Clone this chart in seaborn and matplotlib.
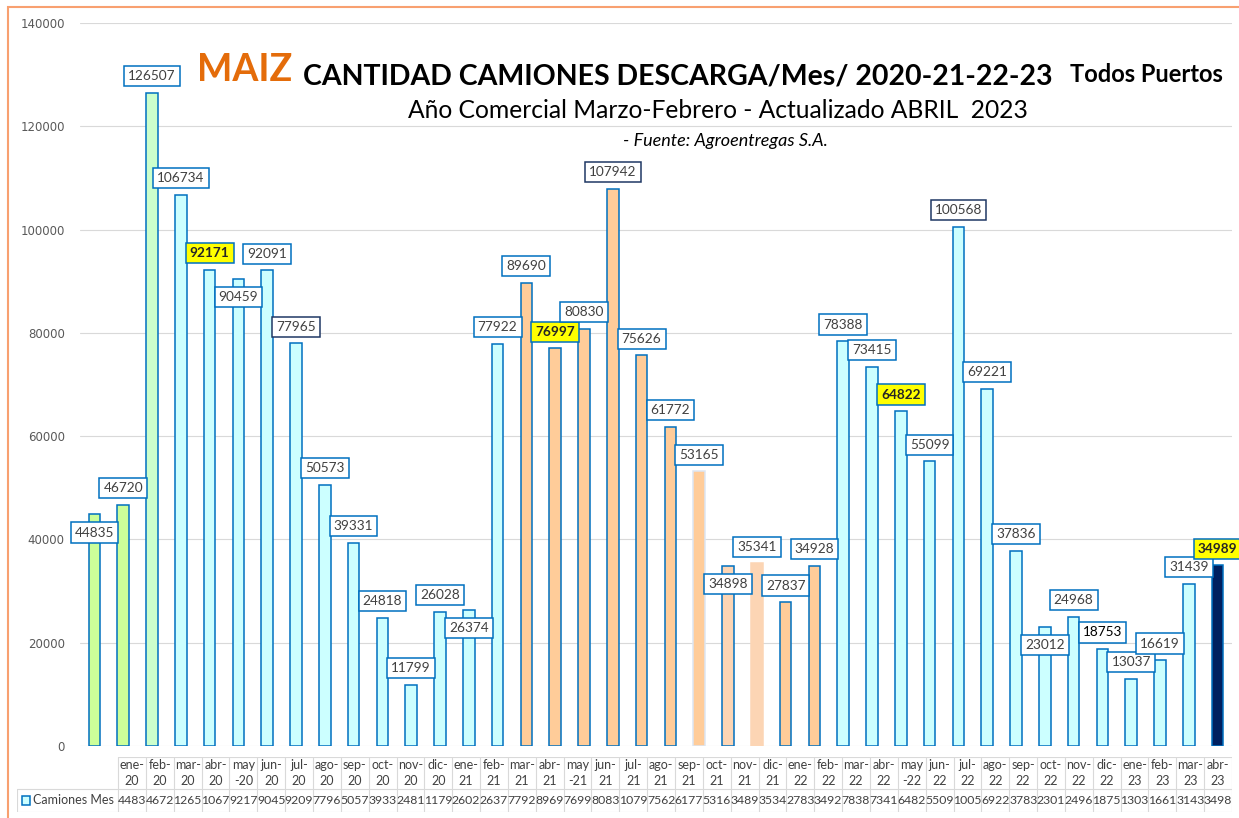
#camiones de maiz descargados por mes - todos los puertos

import matplotlib
matplotlib.use('Agg')
import matplotlib.pyplot as plt
import seaborn as sns
from matplotlib.patches import Rectangle

# datos
meses = ['ene-20', 'feb-20', 'mar-20', 'abr-20', 'may-20', 'jun-20', 'jul-20', 'ago-20',
         'sep-20', 'oct-20', 'nov-20', 'dic-20', 'ene-21', 'feb-21', 'mar-21', 'abr-21',
         'may-21', 'jun-21', 'jul-21', 'ago-21', 'sep-21', 'oct-21', 'nov-21', 'dic-21',
         'ene-22', 'feb-22', 'mar-22', 'abr-22', 'may-22', 'jun-22', 'jul-22', 'ago-22',
         'sep-22', 'oct-22', 'nov-22', 'dic-22', 'ene-23', 'feb-23', 'mar-23', 'abr-23']
camiones = [44835, 46720, 126507, 106734, 92171, 90459, 92091, 77965,
            50573, 39331, 24818, 11799, 26028, 26374, 77922, 89690,
            76997, 80830, 107942, 75626, 61772, 53165, 34898, 35341,
            27837, 34928, 78388, 73415, 64822, 55099, 100568, 69221,
            37836, 23012, 24968, 18753, 13037, 16619, 31439, 34989]

# colores de las barras
verde = '#CCFF99'
verde_claro = '#CCFFCC'
celeste = '#CCFFFF'
naranja = '#FFCC99'
naranja_claro = '#FCD5B4'
azul_oscuro = '#002060'
azul = '#0070C0'
colores = ([verde] * 2 + [verde_claro] + [celeste] * 12 + [naranja] * 6 +
           [naranja, naranja_claro, naranja_claro, naranja, naranja] + [celeste] * 13 + [azul_oscuro])
bordes = [azul] * 40
bordes[21] = '#DCE6F2'  # oct-21 sin borde marcado
bordes[23] = naranja_claro  # dic-21 sin borde

etiqueta_abajo = [0, 5, 13, 22, 33]  # etiquetas que Excel puso debajo del tope
destacados = [4, 16, 28, 39]  # etiquetas amarillas (mayo de cada año y ultimo mes)
borde_oscuro = [7, 18, 30]

sns.set_style("white")
plt.rcParams['font.family'] = ['Lato', 'DejaVu Sans']

W, H = 1239, 818
fig = plt.figure(figsize=(W / 100, H / 100), dpi=100)
ax = fig.add_axes([80 / W, 1 - 746 / H, (1232 - 80) / W, (746 - 23) / H])

sns.barplot(x=meses, y=camiones, hue=meses, palette=colores, legend=False,
            width=0.4, saturation=1, ax=ax)

barras = sorted(ax.patches, key=lambda p: p.get_x())
for i, barra in enumerate(barras):
    barra.set_edgecolor(bordes[i])
    barra.set_linewidth(1.1)

    if i in destacados:
        caja = dict(boxstyle='square,pad=0.3', fc='#FFFF00', ec=azul, lw=1.1)
        peso, color_txt = 'bold', '#262626'
    else:
        caja = dict(boxstyle='square,pad=0.3', fc='white',
                    ec='#1F3864' if i in borde_oscuro else azul, lw=1.1)
        peso, color_txt = 'normal', '#000000' if i == 35 else '#404040'
    desplaz = -13 if i in etiqueta_abajo else 12
    ax.annotate(f'{camiones[i]}', xy=(barra.get_x() + barra.get_width() / 2, barra.get_height()),
                xytext=(0, desplaz), textcoords='offset points', ha='center', va='center',
                fontsize=9.8, fontweight=peso, color=color_txt, bbox=caja,
                annotation_clip=False, zorder=5)

ax.set_ylim(0, 140000)
ax.set_xlim(-0.5, len(meses) - 0.5)
ax.set_yticks(range(0, 140001, 20000))
ax.yaxis.grid(True, color='#D9D9D9', lw=0.8)
ax.set_axisbelow(True)
ax.tick_params(axis='y', length=0, pad=11, labelsize=8.5, labelcolor='#595959')
for t in ax.get_yticklabels():
    t.set_family('DejaVu Sans')
ax.set_xticks([])
ax.set_xlabel('')
ax.set_ylabel('')
sns.despine(ax=ax, left=True, bottom=True)

# titulos
fig.text(197 / W, 1 - 81 / H, 'MAIZ', fontsize=27, fontweight='bold', color='#E46C0A', va='baseline')
fig.text(303 / W, 1 - 84 / H, 'CANTIDAD CAMIONES DESCARGA/Mes/ 2020-21-22-23',
         fontsize=20.5, fontweight='bold', color='black', va='baseline')
fig.text(1070 / W, 1 - 82 / H, 'Todos Puertos', fontsize=17, fontweight='bold', color='black', va='baseline')
fig.text(718 / W, 1 - 118 / H, 'Año Comercial Marzo-Febrero - Actualizado ABRIL  2023',
         fontsize=17.7, color='black', ha='center', va='baseline')
fig.text(725 / W, 1 - 146 / H, '- Fuente: Agroentregas S.A.', fontsize=13, style='italic',
         color='black', ha='center', va='baseline')

# tabla de datos debajo del grafico
x0, x1 = 17, 1232
ancho_col = (1232 - 118) / 40
izq = -(118 - 17) / ancho_col
tab = fig.add_axes([x0 / W, 1 - 812 / H, (x1 - x0) / W, (812 - 757) / H])
tab.set_xlim(izq, 40)
tab.set_ylim(0, 55)
tab.axis('off')
gris = '#D9D9D9'
tab.plot([0, 40], [55, 55], color=gris, lw=0.8)
tab.plot([izq, 40], [23, 23], color=gris, lw=0.8)
tab.plot([izq, 40], [0, 0], color=gris, lw=0.8)
tab.plot([izq, izq], [0, 23], color=gris, lw=0.8)
for k in range(41):
    tab.plot([k, k], [0, 55], color=gris, lw=0.8)
for k, (mes, valor) in enumerate(zip(meses, camiones)):
    if mes.startswith('may'):
        arriba, abajo = 'may', '-' + mes[4:]
    else:
        arriba, abajo = mes[:4], mes[4:]
    tab.text(k + 0.5, 47, arriba, ha='center', va='center', fontsize=9, color='#404040')
    tab.text(k + 0.5, 31, abajo, ha='center', va='center', fontsize=9, color='#404040')
    tab.text(k + 0.5, 11.5, str(valor)[:4], ha='center', va='center', fontsize=8.8, color='#404040')
tab.add_patch(Rectangle((izq + 0.18, 7), 0.3, 9, fc=celeste, ec=azul, lw=1.1))
tab.text(izq + 0.58, 11.5, 'Camiones Mes', ha='left', va='center', fontsize=9, color='#404040')

# borde naranja del grafico
fig.patches.append(Rectangle((8 / W, -0.05), 1.2, 1 - 7 / H + 0.05, transform=fig.transFigure,
                             fill=False, ec='#F8A070', lw=1.5))

plt.savefig('out.png', dpi=100)
